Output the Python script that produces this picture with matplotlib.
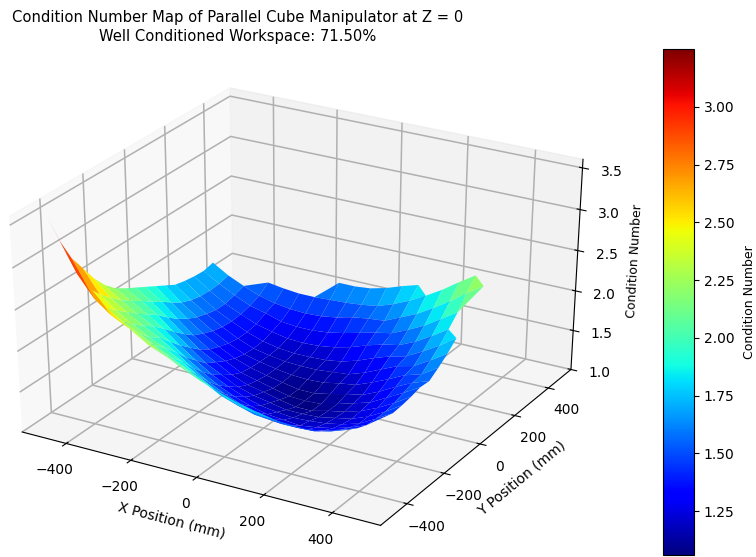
import numpy as np
import matplotlib
matplotlib.use('Agg')
import matplotlib.pyplot as plt

x_positions = [-470.0, -420.5, -371.1, -321.6, -272.1, -222.6, -173.2, -123.7, -74.2, -24.7,
               24.7, 74.2, 123.7, 173.2, 222.6, 272.1, 321.6, 371.1, 420.5, 470.0]
y_positions = list(x_positions)
n = float('nan')
condition_number = [
    [3.55, 3.20, 2.92, 2.72, 2.55, 2.42, 2.30, 2.22, 2.12, 2.03, 1.96, 1.89, 1.84, n, n, n, n, n, n, n],
    [3.20, 2.85, 2.60, 2.45, 2.35, 2.25, 2.15, 2.06, 1.97, 1.88, 1.78, 1.71, 1.67, 1.66, n, n, n, n, n, n],
    [2.92, 2.60, 2.42, 2.30, 2.20, 2.10, 2.00, 1.90, 1.79, 1.68, 1.61, 1.55, 1.53, 1.52, 1.53, 1.55, n, n, n, n],
    [2.72, 2.45, 2.30, 2.18, 2.07, 1.98, 1.87, 1.74, 1.62, 1.53, 1.46, 1.42, 1.40, 1.40, 1.41, 1.46, 1.53, n, n, n],
    [2.52, 2.33, 2.20, 2.08, 1.98, 1.85, 1.71, 1.58, 1.48, 1.40, 1.35, 1.31, 1.29, 1.29, 1.33, 1.39, 1.46, n, n, n],
    [2.36, 2.22, 2.10, 1.99, 1.85, 1.70, 1.57, 1.45, 1.36, 1.29, 1.24, 1.22, 1.20, 1.23, 1.27, 1.33, 1.41, n, n, n],
    [2.24, 2.13, 2.01, 1.88, 1.72, 1.58, 1.45, 1.35, 1.27, 1.21, 1.18, 1.16, 1.17, 1.19, 1.23, 1.29, 1.40, 1.52, n, n],
    [2.16, 2.05, 1.92, 1.76, 1.61, 1.46, 1.36, 1.26, 1.20, 1.16, 1.12, 1.12, 1.13, 1.17, 1.21, 1.29, 1.40, 1.53, n, n],
    [2.09, 1.96, 1.81, 1.65, 1.50, 1.39, 1.28, 1.20, 1.16, 1.11, 1.07, 1.07, 1.12, 1.16, 1.22, 1.31, 1.42, 1.55, n, n],
    [2.02, 1.88, 1.71, 1.55, 1.42, 1.32, 1.22, 1.17, 1.12, 1.07, 1.06, 1.07, 1.12, 1.18, 1.24, 1.35, 1.46, 1.58, n, n],
    [1.95, 1.79, 1.63, 1.49, 1.37, 1.27, 1.20, 1.15, 1.11, 1.07, 1.07, 1.11, 1.16, 1.20, 1.29, 1.40, 1.50, 1.57, n, n],
    [1.88, 1.71, 1.57, 1.44, 1.33, 1.24, 1.19, 1.15, 1.12, 1.11, 1.12, 1.16, 1.19, 1.27, 1.36, 1.46, 1.52, 1.65, n, n],
    [1.81, 1.66, 1.53, 1.41, 1.31, 1.23, 1.19, 1.16, 1.15, 1.15, 1.17, 1.19, 1.26, 1.35, 1.44, 1.49, 1.61, 1.74, n, n],
    [1.78, 1.63, 1.50, 1.40, 1.31, 1.24, 1.20, 1.18, 1.18, 1.19, 1.22, 1.28, 1.36, 1.43, 1.48, 1.59, 1.71, 1.85, n, n],
    [1.76, 1.62, 1.50, 1.41, 1.33, 1.28, 1.24, 1.23, 1.24, 1.27, 1.32, 1.39, 1.45, 1.49, 1.58, 1.70, 1.83, n, n, n],
    [1.75, 1.63, 1.53, 1.44, 1.39, 1.33, 1.31, 1.31, 1.33, 1.37, 1.42, 1.47, 1.51, 1.60, 1.70, 1.83, 1.96, n, n, n],
    [1.78, 1.66, 1.57, 1.49, 1.44, 1.41, 1.40, 1.41, 1.44, 1.49, 1.52, 1.54, 1.63, 1.72, 1.84, 1.97, 2.12, 2.25, n, n],
    [n, n, n, 1.58, 1.55, 1.53, 1.53, 1.54, 1.55, 1.57, 1.60, 1.67, 1.76, 1.87, 1.99, 2.13, 2.26, n, n, n],
    [n, n, n, n, n, n, n, 1.68, 1.68, 1.70, 1.75, 1.82, 1.88, n, n, n, n, n, n, n],
    [n, n, n, n, n, n, n, n, n, n, n, n, n, n, n, n, n, n, n, n],
]
title_lines = ['Condition Number Map of Parallel Cube Manipulator at Z = 0',
               'Well Conditioned Workspace: 71.50%']
x_ticks = [-400, -200, 0, 200, 400]
y_ticks = [-400, -200, 0, 200, 400]
z_ticks = [1.0, 1.5, 2.0, 2.5, 3.0, 3.5]
cbar_ticks = [1.25, 1.50, 1.75, 2.00, 2.25, 2.50, 2.75, 3.00]

plt.rcParams['grid.linewidth'] = 1.1
fig = plt.figure(figsize=(7.56, 5.57), dpi=100)
ax = fig.add_axes([-26/756, -0.5/557, 638/756, 509/557], projection='3d')
ax.apply_aspect = lambda position=None: None  # the reference is stretched wider than square
X, Y = np.meshgrid(x_positions, y_positions)
Z = np.array(condition_number)
surf = ax.plot_surface(X, Y, np.ma.masked_invalid(Z), cmap='jet', vmin=1.06, vmax=3.25,
                       rstride=1, cstride=1, linewidth=0, antialiased=True, shade=False)
ax.set_xticks(x_ticks)
ax.set_yticks(y_ticks)
ax.set_zticks(z_ticks)
ax.tick_params(labelsize=10)
ax.set_xlabel('X Position (mm)', fontsize=10)
ax.set_ylabel('Y Position (mm)', fontsize=10)
ax.set_zlabel('Condition Number', fontsize=9, labelpad=2)
fig.text(238/756, 1 - 10/557, title_lines[0] + '\n' + title_lines[1], ha='center', va='top',
         fontsize=10.6, linespacing=1.3)
cax = fig.add_axes([663/756, 1 - 555/557, 31/756, 506/557])
cb = fig.colorbar(surf, cax=cax)
cb.set_ticks(cbar_ticks)
cb.set_ticklabels([f'{t:.2f}' for t in cbar_ticks])
cb.ax.tick_params(labelsize=10)
cb.set_label('Condition Number', fontsize=9, labelpad=6)
fig.savefig('out.png', dpi=100)
